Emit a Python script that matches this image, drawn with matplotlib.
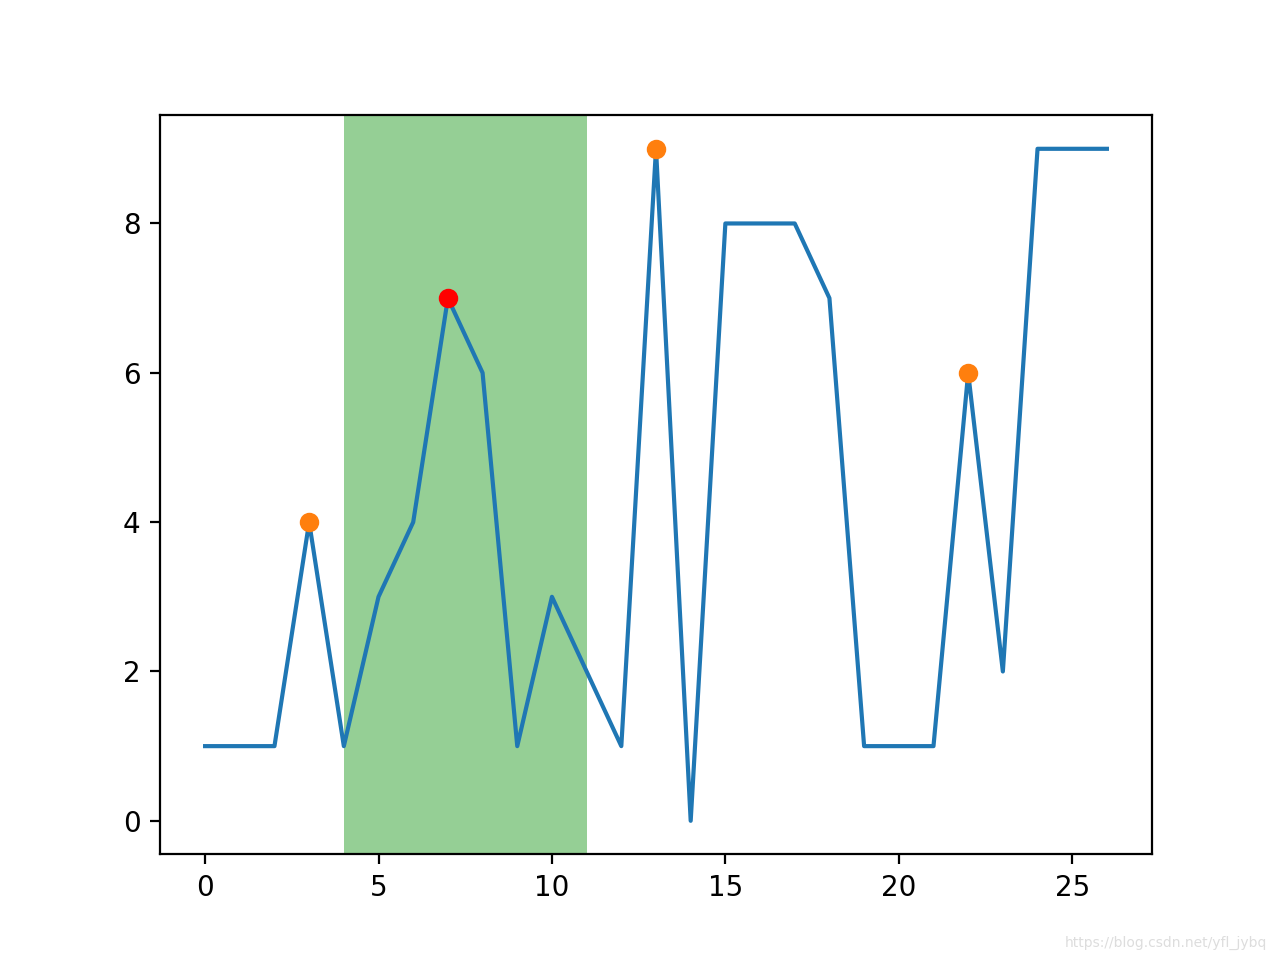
import numpy as np
import matplotlib
matplotlib.use("Agg")
import matplotlib.pyplot as plt

# data
x = np.arange(27)
y = [1, 1, 1, 4, 1, 3, 4, 7, 6, 1, 3, 2, 1, 9, 0, 8, 8, 8, 7, 1, 1, 1, 6, 2, 9, 9, 9]
peaks = [3, 13, 22]
top_peak = 7
span = (4, 11)

fig, ax = plt.subplots(figsize=(6.4, 4.8), dpi=200)
ax.plot(x, y)
ax.plot(peaks, [y[i] for i in peaks], "o")
ax.plot(top_peak, y[top_peak], "o", color="red")
ax.axvspan(span[0], span[1], color="tab:green", alpha=0.5, lw=0)

fig.text(0.99, 0.01, "https://blog.csdn.net/yfl_jybq", ha="right", va="bottom",
         fontsize=5, color="#dddddd")

plt.savefig("out.png", dpi=200)
